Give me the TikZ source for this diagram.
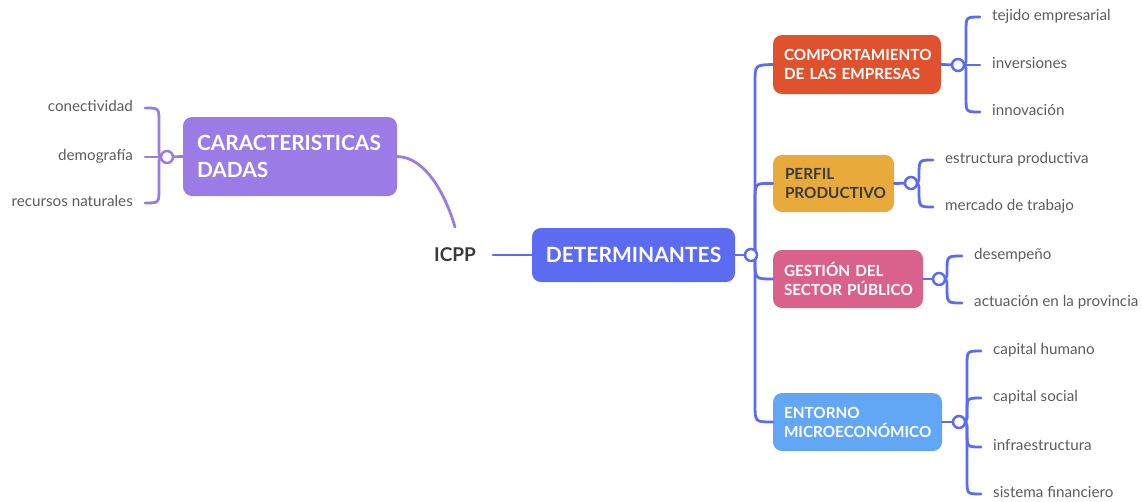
\documentclass[tikz,border=0pt]{standalone}
\usepackage{fontspec}
\setmainfont{Lato}
\usetikzlibrary{calc}
\definecolor{cpurple}{HTML}{9B7BE6}
\definecolor{cindigo}{HTML}{5B6BF2}
\definecolor{cred}{HTML}{E0522E}
\definecolor{cyell}{HTML}{E8AB3B}
\definecolor{cpink}{HTML}{D9618B}
\definecolor{cblue}{HTML}{62A7F6}
\definecolor{leafgray}{HTML}{5C5C5C}
\definecolor{darktext}{HTML}{3A3A3A}
\begin{document}
\begin{tikzpicture}[x=1pt,y=-1pt,
  topic/.style={rounded corners=9pt, inner ysep=0pt, align=left, text=white,
    font=\bfseries\fontsize{15.3}{19}\selectfont},
  leaf/.style={font=\fontsize{15.2}{17}\selectfont, text=leafgray, inner xsep=12pt,
    inner ysep=0pt, text height=10.5pt, text depth=3pt},
  leafR/.style={leaf, anchor=west},
  leafL/.style={leaf, anchor=east},
  hub/.style={circle, draw=#1, fill=white, line width=2.5pt, minimum size=12pt, inner sep=0pt},
  bl/.style={draw=cindigo, line width=2.8pt, line cap=round},
  pl/.style={draw=cpurple, line width=2.8pt, line cap=round},
]
\useasboundingbox (0,0) rectangle (1142,501);

% main topics
\node[topic, fill=cpurple, minimum width=214pt, minimum height=79pt, inner xsep=14pt,
  text width=186pt, font=\bfseries\fontsize{20.9}{27}\selectfont] (car) at (290,156.5)
  {\mbox{CARACTERISTICAS}\\DADAS};
\node[inner sep=0pt, text height=13.5pt, text depth=0pt, text=darktext,
  font=\bfseries\fontsize{19}{22}\selectfont] (icpp) at (455,255) {ICPP};
\node[topic, fill=cindigo, minimum width=203pt, minimum height=54pt, inner xsep=12pt,
  text width=179pt, align=center, font=\bfseries\fontsize{21}{24}\selectfont] (det) at (633.5,255)
  {DETERMINANTES};

% sub topics
\node[topic, fill=cred, minimum width=168pt, minimum height=59pt, inner xsep=11pt,
  text width=146pt] (comp) at (857,64.5) {\mbox{COMPORTAMIENTO}\\\mbox{DE LAS EMPRESAS}};
\node[topic, fill=cyell, text=darktext, minimum width=121pt, minimum height=57pt, inner xsep=12pt,
  text width=97pt] (perf) at (833.5,183.5) {PERFIL\\\mbox{PRODUCTIVO}};
\node[topic, fill=cpink, minimum width=150pt, minimum height=58pt, inner xsep=11pt,
  text width=128pt] (gest) at (848,279) {\mbox{GESTIÓN DEL}\\\mbox{SECTOR PÚBLICO}};
\node[topic, fill=cblue, minimum width=169pt, minimum height=58pt, inner xsep=11pt,
  text width=147pt] (ent) at (857.5,422) {ENTORNO\\\mbox{MICROECONÓMICO}};

% leaves left
\node[leafL] (con) at (145,108) {conectividad};
\node[leafL] (dem) at (145,157) {demografía};
\node[leafL] (rec) at (145,203) {recursos naturales};
% leaves right
\node[leafR] (tej) at (980,17) {tejido empresarial};
\node[leafR] (inv) at (980,65) {inversiones};
\node[leafR] (inn) at (980,112) {innovación};
\node[leafR] (est) at (933,160) {estructura productiva};
\node[leafR] (mer) at (933,207) {mercado de trabajo};
\node[leafR] (des) at (962,256) {desempeño};
\node[leafR] (act) at (962,303) {actuación en la provincia};
\node[leafR] (chu) at (981,351) {capital humano};
\node[leafR] (cso) at (981,398) {capital social};
\node[leafR] (inf) at (981,447) {infraestructura};
\node[leafR] (sfi) at (981,494) {sistema financiero};

% hub coordinates
\coordinate (hcar) at (167,157);
\coordinate (hdet) at (751,255);
\coordinate (hcomp) at (958,65);
\coordinate (hperf) at (911,183);
\coordinate (hgest) at (939,279);
\coordinate (hent) at (959,422);

% connectors: left side
\draw[pl] (car.east) .. controls (426,157) and (446,196) .. ([yshift=21pt]icpp.north);
\draw[pl] (car.west) -- (hcar);
\draw[pl] (hcar) .. controls (159,157) .. (159,149) -- (159,122) .. controls (159,108) .. (con.east);
\draw[pl] (hcar) -- (dem.east);
\draw[pl] (hcar) .. controls (159,157) .. (159,165) -- (159,189) .. controls (159,203) .. (rec.east);

% ICPP to DETERMINANTES
\draw[bl] ([xshift=17pt]icpp.east) -- (det.west);
\draw[bl] (det.east) -- (hdet);

% trunk
\draw[bl] ([xshift=4pt]hdet) -- (755,83) .. controls (755,65) .. (comp.west);
\draw[bl] ([xshift=4pt]hdet) -- (755,201) .. controls (755,183) .. (perf.west);
\draw[bl] ([xshift=4pt]hdet) -- (755,261) .. controls (755,279) .. (gest.west);
\draw[bl] ([xshift=4pt]hdet) -- (755,404) .. controls (755,422) .. (ent.west);

% comp branches
\draw[bl] (comp.east) -- (hcomp);
\draw[bl] (hcomp) .. controls (966,65) .. (966,57) -- (966,31) .. controls (966,17) .. (tej.west);
\draw[bl] (hcomp) -- (inv.west);
\draw[bl] (hcomp) .. controls (966,65) .. (966,73) -- (966,98) .. controls (966,112) .. (inn.west);
% perf branches
\draw[bl] (perf.east) -- (hperf);
\draw[bl] (hperf) .. controls (919,183) .. (919,175) .. controls (919,160) .. (est.west);
\draw[bl] (hperf) .. controls (919,183) .. (919,191) .. controls (919,207) .. (mer.west);
% gest branches
\draw[bl] (gest.east) -- (hgest);
\draw[bl] (hgest) .. controls (947,279) .. (947,271) .. controls (947,256) .. (des.west);
\draw[bl] (hgest) .. controls (947,279) .. (947,287) .. controls (947,303) .. (act.west);
% ent branches
\draw[bl] (ent.east) -- (hent);
\draw[bl] (hent) .. controls (967,422) .. (967,414) -- (967,365) .. controls (967,351) .. (chu.west);
\draw[bl] (hent) .. controls (967,422) .. (967,412) .. controls (967,398) .. (cso.west);
\draw[bl] (hent) .. controls (967,422) .. (967,432) -- (967,433) .. controls (967,447) .. (inf.west);
\draw[bl] (hent) .. controls (967,422) .. (967,430) -- (967,480) .. controls (967,494) .. (sfi.west);

% hubs
\node[hub=cpurple] (ncar) at (hcar) {};
\node[hub=cindigo] (ndet) at (hdet) {};
\node[hub=cindigo] (ncomp) at (hcomp) {};
\node[hub=cindigo] (nperf) at (hperf) {};
\node[hub=cindigo] (ngest) at (hgest) {};
\node[hub=cindigo] (nent) at (hent) {};
\end{tikzpicture}
\end{document}
